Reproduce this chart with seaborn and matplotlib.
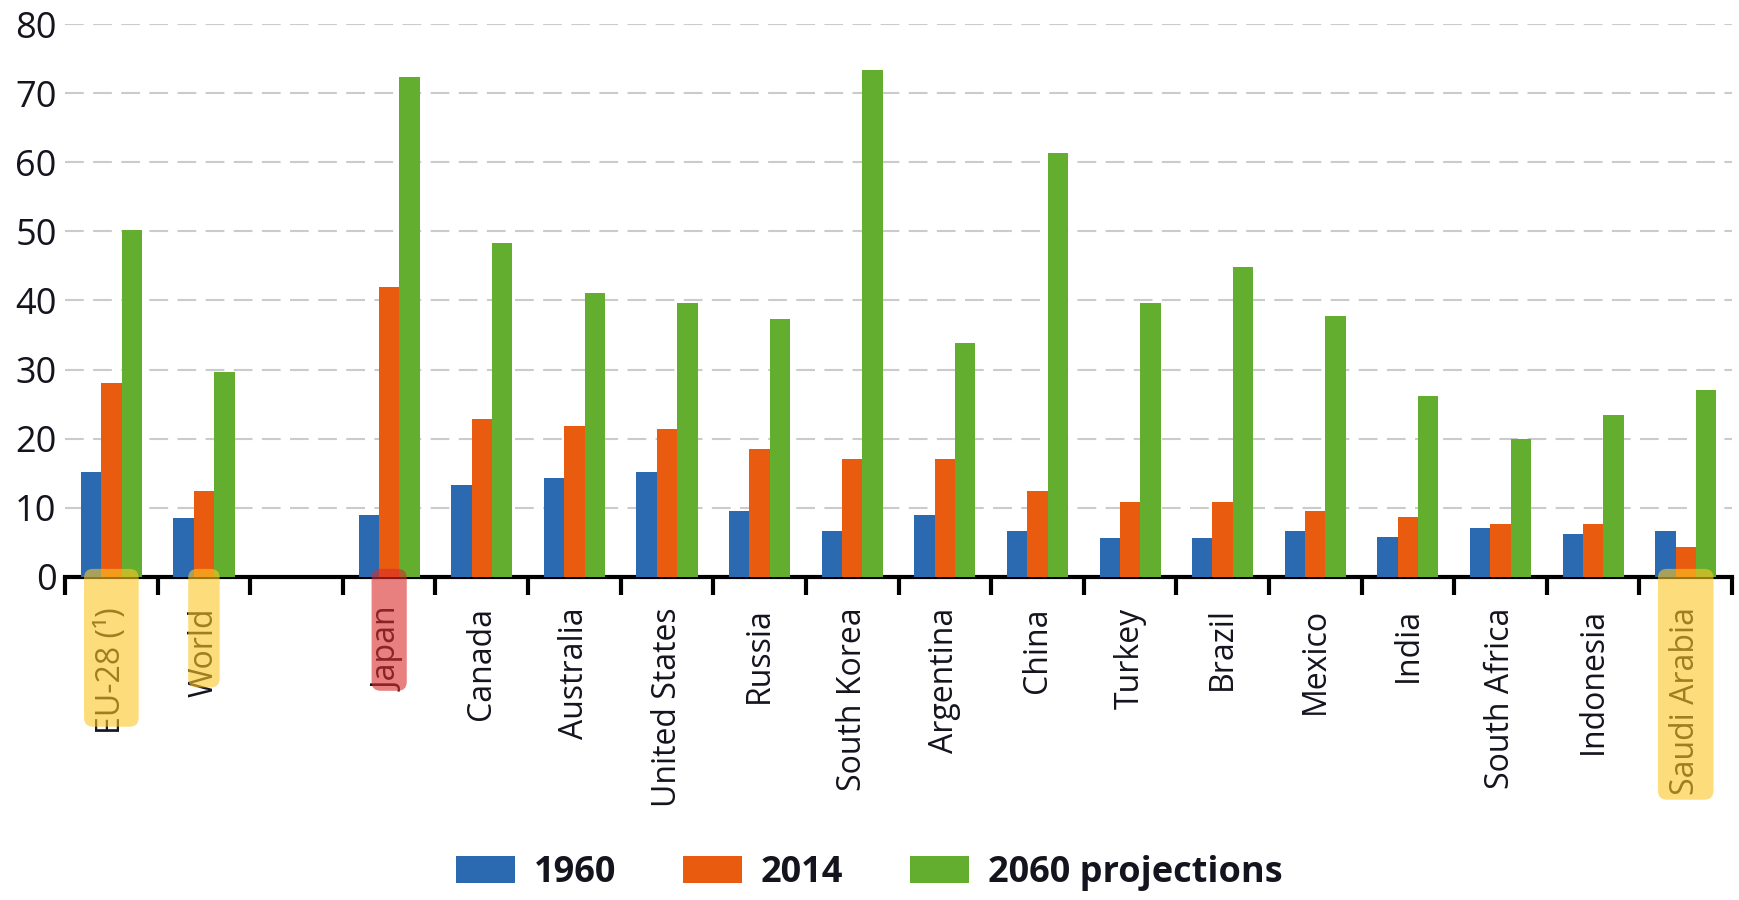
import pandas as pd
import matplotlib
matplotlib.use("Agg")
import matplotlib.pyplot as plt
import seaborn as sns
from matplotlib.patches import FancyBboxPatch
from matplotlib.transforms import IdentityTransform

# ============================
# DATA
# ============================
countries = ["EU-28 (¹)", "World", " ", "Japan", "Canada", "Australia", "United States",
             "Russia", "South Korea", "Argentina", "China", "Turkey", "Brazil", "Mexico",
             "India", "South Africa", "Indonesia", "Saudi Arabia"]
series = ["1960", "2014", "2060 projections"]

v1960 = [15.2, 8.5, None, 9.0, 13.3, 14.3, 15.2, 9.5, 6.6, 9.0, 6.6, 5.7, 5.7, 6.7, 5.8, 7.1, 6.2, 6.7]
v2014 = [28.1, 12.4, None, 42.0, 22.9, 21.9, 21.4, 18.5, 17.1, 17.1, 12.4, 10.9, 10.9, 9.6, 8.6, 7.6, 7.6, 4.3]
v2060 = [50.2, 29.6, None, 72.4, 48.3, 41.1, 39.6, 37.3, 73.4, 33.9, 61.3, 39.6, 44.9, 37.7, 26.2, 20.0, 23.4, 27.1]

colors = ["#2b6ab1", "#e95b0e", "#63ad2f"]

# highlighted labels: (category, colour, box width in slots, box bottom in axes fraction)
highlights = [("EU-28 (¹)", "#fdc625", 0.59, -0.271),
              ("World", "#fdc625", 0.34, -0.200),
              ("Japan", "#d92b2b", 0.38, -0.206),
              ("Saudi Arabia", "#fdc625", 0.60, -0.403)]

# long table for seaborn
rows = []
for name, vals in zip(series, [v1960, v2014, v2060]):
    for c, v in zip(countries, vals):
        if v is not None:
            rows.append({"country": c, "series": name, "value": v})
df = pd.DataFrame(rows)

# ============================
# PLOT
# ============================
sns.set_style("white")
plt.rcParams["font.family"] = ["Open Sans", "DejaVu Sans"]
ink = "#14141f"

fig = plt.figure(figsize=(17.39, 9.0), dpi=100)
ax = fig.add_axes([0.0374, 0.359, 0.9586, 0.6143])

sns.barplot(data=df, x="country", y="value", hue="series", order=countries,
            hue_order=series, palette=colors, width=0.66, saturation=1,
            errorbar=None, linewidth=0, ax=ax, zorder=3)

ax.set_xlim(-0.5, len(countries) - 0.5)
ax.set_ylim(0, 80)
ax.set_yticks(range(0, 81, 10))
ax.set_xlabel("")
ax.set_ylabel("")

# dashed grid
ax.set_axisbelow(True)
for y in range(10, 81, 10):
    ax.axhline(y, color="#cbcbcb", lw=1.5, dashes=(9, 4.5), zorder=0)

for s in ["left", "right", "top"]:
    ax.spines[s].set_visible(False)
ax.spines["bottom"].set_linewidth(3)
ax.spines["bottom"].set_color("black")

ax.tick_params(axis="y", length=0, pad=6, labelsize=26, labelcolor=ink)
ax.tick_params(axis="x", which="major", length=0, pad=22, labelsize=23, labelcolor=ink)
ax.set_xticks(range(len(countries)))
ax.set_xticklabels(countries, rotation=90, va="top", ha="center")
ax.set_xticks([i - 0.5 for i in range(len(countries) + 1)], minor=True)
ax.tick_params(axis="x", which="minor", bottom=True, length=13, width=3, color="black")

# legend at the bottom
handles, labels = ax.get_legend_handles_labels()
ax.legend_.remove()
fig.legend(handles, labels, loc="lower center", bbox_to_anchor=(0.5, -0.006), ncol=3,
           frameon=False, prop={"weight": "bold", "size": 26}, labelcolor=ink,
           handlelength=1.63, handleheight=0.75, handletextpad=0.52, columnspacing=1.85,
           borderaxespad=0.0)

# highlight boxes drawn over the labels
top = 0.0145
for name, col, w, bottom in highlights:
    i = countries.index(name)
    x0 = ax.transData.transform((i - w / 2, 0))[0]
    x1 = ax.transData.transform((i + w / 2, 0))[0]
    y1 = ax.transAxes.transform((0, top))[1]
    y0 = ax.transAxes.transform((0, bottom))[1]
    box = FancyBboxPatch((x0, y0), x1 - x0, y1 - y0,
                         boxstyle="round,pad=0,rounding_size=9",
                         transform=IdentityTransform(), facecolor=col,
                         edgecolor="none", alpha=0.6, zorder=5)
    fig.patches.append(box)

fig.savefig("out.png", dpi=100)
